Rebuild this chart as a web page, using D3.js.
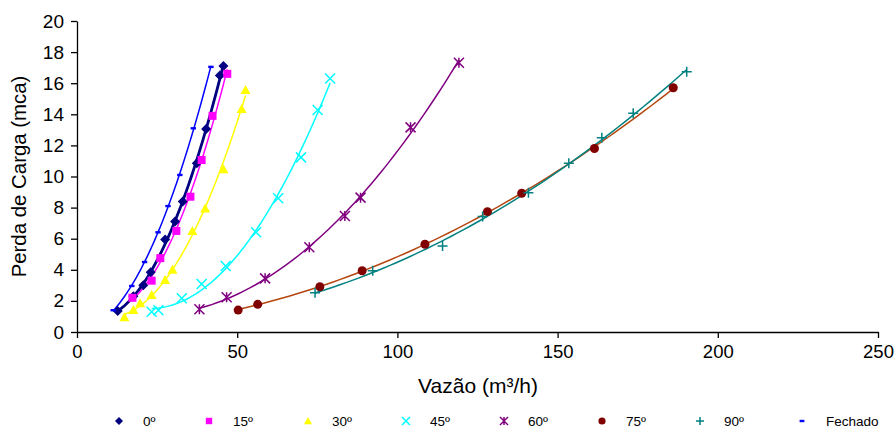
<!DOCTYPE html>
<html>
<head>
<meta charset="utf-8">
<script src="https://cdn.jsdelivr.net/npm/d3@7"></script>
<style>
  body { margin: 0; background: #fff; }
  svg { font-family: "Liberation Sans", Arial, sans-serif; }
</style>
</head>
<body>
<svg id="chart" width="895" height="432"></svg>
<script>
// series names
const seriesNames = ["0º", "15º", "30º", "45º", "60º", "75º", "90º", "Fechado"];

// flow (m3/h) and head loss (mca) per series
const x0 = [12.7, 17.6, 20.7, 23.0, 27.5, 30.6, 33.0, 37.4, 40.3, 44.6, 45.7];
const y0 = [1.35, 2.3, 3.0, 3.85, 5.95, 7.1, 8.4, 10.85, 13.05, 16.5, 17.1];
const x15 = [17.3, 23.3, 26.0, 31.0, 35.4, 38.9, 42.3, 46.9];
const y15 = [2.2, 3.3, 4.75, 6.5, 8.7, 11.06, 13.9, 16.6];
const x30 = [14.8, 17.6, 19.7, 23.3, 27.5, 29.8, 36.0, 40.0, 45.7, 51.4, 52.6];
const y30 = [0.95, 1.41, 1.85, 2.38, 3.34, 4.0, 6.5, 7.95, 10.46, 14.34, 15.56];
const x45 = [23.3, 25.4, 32.7, 38.9, 46.4, 55.9, 62.8, 69.9, 75.1, 79.0];
const y45 = [1.3, 1.4, 2.17, 3.09, 4.24, 6.41, 8.6, 11.23, 14.28, 16.3];
const x60 = [38.2, 46.7, 58.7, 72.5, 83.6, 88.5, 104.1, 119.2];
const y60 = [1.46, 2.23, 3.45, 5.45, 7.46, 8.64, 13.16, 17.32];
const x75 = [50.3, 56.4, 75.8, 89.0, 108.6, 128.1, 138.8, 161.5, 186.1];
const y75 = [1.41, 1.78, 2.91, 3.94, 5.64, 7.74, 8.92, 11.8, 15.71];
const x90 = [74.3, 92.3, 114.1, 126.6, 140.9, 153.5, 163.8, 173.6, 190.3];
const y90 = [2.53, 3.94, 5.53, 7.42, 8.96, 10.85, 12.5, 14.06, 16.74];
const xF = [11.3, 17.1, 21.1, 25.3, 28.4, 32.1, 36.3, 41.8];
const yF = [1.4, 2.96, 4.5, 6.41, 8.1, 10.1, 13.1, 17.05];

const xTicks = [0, 50, 100, 150, 200, 250];
const yTicks = [0, 2, 4, 6, 8, 10, 12, 14, 16, 18, 20];

const styles = [
  { marker: "diamond",  fill: "#000080", line: "#000080", lw: 2.8 },
  { marker: "square",   fill: "#FF00FF", line: "#FF00FF", lw: 1.5 },
  { marker: "triangle", fill: "#FFFF00", line: "#FFFF00", lw: 1.5 },
  { marker: "x",        fill: "#00FFFF", line: "#00FFFF", lw: 1.5 },
  { marker: "star",     fill: "#800080", line: "#800080", lw: 1.5 },
  { marker: "circle",   fill: "#800000", line: "#B4460F", lw: 1.5 },
  { marker: "plus",     fill: "#008080", line: "#008080", lw: 1.5 },
  { marker: "dash",     fill: "#0000FF", line: "#0000FF", lw: 1.5 }
];

const xs = [x0, x15, x30, x45, x60, x75, x90, xF];
const ys = [y0, y15, y30, y45, y60, y75, y90, yF];
const series = seriesNames.map((n, i) => ({
  name: n, style: styles[i],
  pts: xs[i].map((v, j) => ({ x: v, y: ys[i][j] }))
}));

const svg = d3.select("#chart");
const x = d3.scaleLinear().domain([0, 250]).range([77, 878]);
const y = d3.scaleLinear().domain([0, 20]).range([332, 21]);

// axes
svg.append("g")
  .attr("transform", "translate(77,0)")
  .call(d3.axisLeft(y).tickValues(yTicks).tickSize(6).tickPadding(7).tickSizeOuter(0))
  .call(g => g.selectAll("text").attr("font-size", 19).attr("fill", "#000").attr("font-family", null))
  .call(g => g.selectAll("line,path").attr("stroke", "#000").attr("stroke-width", 1.3));

svg.append("g")
  .attr("transform", "translate(0,332)")
  .call(d3.axisBottom(x).tickValues(xTicks).tickSize(6).tickPadding(7).tickSizeOuter(0))
  .call(g => g.selectAll("text").attr("font-size", 18.5).attr("fill", "#000").attr("font-family", null))
  .call(g => g.selectAll("line,path").attr("stroke", "#000").attr("stroke-width", 1.3));

svg.append("text")
  .attr("transform", "translate(26,176.5) rotate(-90)")
  .attr("text-anchor", "middle")
  .attr("font-size", 20.4)
  .text("Perda de Carga (mca)");

svg.append("text")
  .attr("x", 478).attr("y", 393)
  .attr("text-anchor", "middle")
  .attr("font-size", 21)
  .text("Vazão (m³/h)");

// quadratic least-squares trendline (like the spreadsheet's polynomial trendline)
function quadFit(pts) {
  let n = pts.length, s1 = 0, s2 = 0, s3 = 0, s4 = 0, t0 = 0, t1 = 0, t2 = 0;
  pts.forEach(p => {
    const a = p.x, a2 = a * a;
    s1 += a; s2 += a2; s3 += a2 * a; s4 += a2 * a2;
    t0 += p.y; t1 += a * p.y; t2 += a2 * p.y;
  });
  const M = [[n, s1, s2, t0], [s1, s2, s3, t1], [s2, s3, s4, t2]];
  for (let i = 0; i < 3; i++) {
    for (let k = i + 1; k < 3; k++) {
      const f = M[k][i] / M[i][i];
      for (let j = i; j < 4; j++) M[k][j] -= f * M[i][j];
    }
  }
  const c = [0, 0, 0];
  for (let i = 2; i >= 0; i--) {
    let s = M[i][3];
    for (let j = i + 1; j < 3; j++) s -= M[i][j] * c[j];
    c[i] = s / M[i][i];
  }
  return v => c[0] + c[1] * v + c[2] * v * v;
}

function drawMarker(g, type, color, size) {
  const h = size / 2;
  if (type === "diamond") {
    g.append("path").attr("d", `M0,${-h}L${h},0L0,${h}L${-h},0Z`).attr("fill", color);
  } else if (type === "square") {
    g.append("rect").attr("x", -h * 0.8).attr("y", -h * 0.8).attr("width", h * 1.6).attr("height", h * 1.6).attr("fill", color);
  } else if (type === "triangle") {
    g.append("path").attr("d", `M0,${-h}L${h},${h * 0.8}L${-h},${h * 0.8}Z`).attr("fill", color);
  } else if (type === "circle") {
    g.append("circle").attr("r", h * 0.9).attr("fill", color);
  } else if (type === "x") {
    g.append("path").attr("d", `M${-h},${-h}L${h},${h}M${-h},${h}L${h},${-h}`)
      .attr("stroke", color).attr("stroke-width", 1.5);
  } else if (type === "star") {
    g.append("path").attr("d", `M${-h},${-h}L${h},${h}M${-h},${h}L${h},${-h}M0,${-h}L0,${h}`)
      .attr("stroke", color).attr("stroke-width", 1.5);
  } else if (type === "plus") {
    g.append("path").attr("d", `M${-h},0L${h},0M0,${-h}L0,${h}`)
      .attr("stroke", color).attr("stroke-width", 1.5);
  } else if (type === "dash") {
    g.append("rect").attr("x", -h * 0.6).attr("y", -1.2).attr("width", h * 1.2).attr("height", 2.4).attr("fill", color);
  }
}

const line = d3.line().x(d => x(d.x)).y(d => y(d.y));

series.forEach(s => {
  const f = quadFit(s.pts);
  const [lo, hi] = d3.extent(s.pts, p => p.x);
  const curve = d3.range(0, 61).map(i => {
    const v = lo + (hi - lo) * i / 60;
    return { x: v, y: f(v) };
  });
  svg.append("path").datum(curve)
    .attr("d", line)
    .attr("fill", "none")
    .attr("stroke", s.style.line)
    .attr("stroke-width", s.style.lw);
});

series.forEach(s => {
  s.pts.forEach(p => {
    const g = svg.append("g").attr("transform", `translate(${x(p.x)},${y(p.y)})`);
    drawMarker(g, s.style.marker, s.style.fill, s.style.marker === "dash" ? 9 : 10);
  });
});

// legend
const legX = [119, 209, 308, 406, 504, 602, 700, 802];
const leg = svg.append("g");
series.forEach((s, i) => {
  const g = leg.append("g").attr("transform", `translate(${legX[i]},421)`);
  drawMarker(g.append("g"), s.style.marker, s.style.fill, 8);
  g.append("text").attr("x", 24).attr("y", 5)
    .attr("font-size", 13.5).text(s.name);
});
</script>
</body>
</html>
